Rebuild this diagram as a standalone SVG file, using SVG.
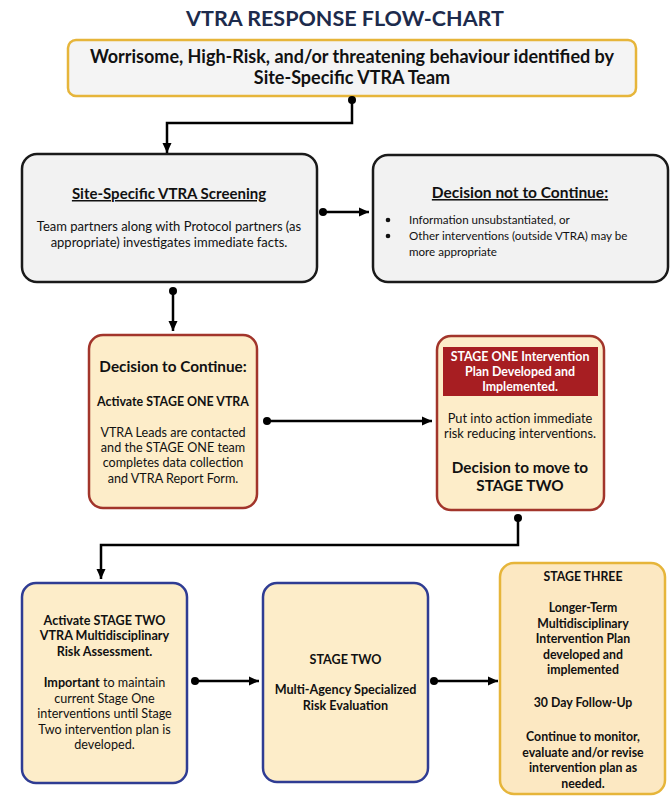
<svg xmlns="http://www.w3.org/2000/svg" width="670" height="796" viewBox="0 0 670 796">
<defs>
<marker id="arr" markerUnits="userSpaceOnUse" markerWidth="12" markerHeight="12" refX="10" refY="5" orient="auto">
<path d="M0,0.5 L10,5 L0,9.5 Z" fill="#000"/>
</marker>
<marker id="dot" markerUnits="userSpaceOnUse" markerWidth="10" markerHeight="10" refX="5" refY="5" orient="auto">
<circle cx="5" cy="5" r="4" fill="#000"/>
</marker>
<style>
text{font-family:Lato,"Liberation Sans",sans-serif;fill:#111;text-anchor:middle}
.b{font-weight:bold}
.u{text-decoration:underline}
.gray{fill:#f2f2f2;stroke:#1a1a1a;stroke-width:2.5}
.red{fill:#fdedc9;stroke:#a2352b;stroke-width:2.5}
.blue{fill:#fdedc9;stroke:#2f3c93;stroke-width:2.5}
.gold{fill:#fce8c2;stroke:#e6b53a;stroke-width:2.5}
.conn{fill:none;stroke:#000;stroke-width:2.5;marker-start:url(#dot);marker-end:url(#arr)}
.m text{font-size:12.6px}
.bt text{font-size:12.6px}
.c3 text{font-size:12.3px;font-weight:bold}
</style>
</defs>
<rect width="670" height="796" fill="#fff"/>
<text x="345" y="26" class="b" style="font-size:21.5px;fill:#1d2b4c">VTRA RESPONSE FLOW-CHART</text>

<g id="top">
<rect x="68" y="40" width="568" height="56" rx="8" fill="#f4f4f4" stroke="#e6b53a" stroke-width="2.5"/>
<text x="352" y="63" class="b" style="font-size:18px">Worrisome, High-Risk, and/or threatening behaviour identified by</text>
<text x="352" y="84" class="b" style="font-size:18px">Site-Specific VTRA Team</text>
</g>

<g id="screening">
<rect x="22" y="154" width="295" height="128" rx="15" class="gray"/>
<text x="169" y="199" class="b u" style="font-size:15px">Site-Specific VTRA Screening</text>
<text x="169" y="231" style="font-size:13px">Team partners along with Protocol partners (as</text>
<text x="169" y="247" style="font-size:13px">appropriate) investigates immediate facts.</text>
</g>

<g id="not-continue">
<rect x="373" y="155" width="295" height="127" rx="15" class="gray"/>
<text x="520" y="198" class="b u" style="font-size:15.5px">Decision not to Continue:</text>
<circle cx="388" cy="220" r="2.3" fill="#111"/>
<circle cx="388" cy="236" r="2.3" fill="#111"/>
<text x="409" y="224" style="font-size:11.6px;text-anchor:start">Information unsubstantiated, or</text>
<text x="409" y="240" style="font-size:11.6px;text-anchor:start">Other interventions (outside VTRA) may be</text>
<text x="409" y="256" style="font-size:11.6px;text-anchor:start">more appropriate</text>
</g>

<g id="continue" class="m">
<rect x="89" y="335" width="168" height="173" rx="14" class="red"/>
<text x="173" y="372" class="b" style="font-size:15.3px">Decision to Continue:</text>
<text x="173" y="406" class="b" style="font-size:12.4px">Activate STAGE ONE VTRA</text>
<text x="173" y="437">VTRA Leads are contacted</text>
<text x="173" y="452">and the STAGE ONE team</text>
<text x="173" y="467">completes data collection</text>
<text x="173" y="483">and VTRA Report Form.</text>
</g>

<g id="stage-one">
<rect x="437" y="336" width="167" height="174" rx="14" class="red"/>
<rect x="443" y="347" width="155" height="49" fill="#a71e22"/>
<text x="520" y="361" class="b" style="font-size:12.4px;fill:#fff">STAGE ONE Intervention</text>
<text x="520" y="376" class="b" style="font-size:12.4px;fill:#fff">Plan Developed and</text>
<text x="520" y="391" class="b" style="font-size:12.4px;fill:#fff">Implemented.</text>
<text x="520" y="422.5" style="font-size:12.8px">Put into action immediate</text>
<text x="520" y="437.5" style="font-size:12.8px">risk reducing interventions.</text>
<text x="520" y="473" class="b" style="font-size:15.3px">Decision to move to</text>
<text x="520" y="491" class="b" style="font-size:15.3px">STAGE TWO</text>
</g>

<g id="activate-two" class="bt">
<rect x="22" y="583" width="165" height="200" rx="14" class="blue"/>
<text x="104.5" y="624.5" class="b">Activate STAGE TWO</text>
<text x="104.5" y="640" class="b">VTRA Multidisciplinary</text>
<text x="104.5" y="655.5" class="b">Risk Assessment.</text>
<text x="104.5" y="687"><tspan class="b">Important</tspan> to maintain</text>
<text x="104.5" y="702.5">current Stage One</text>
<text x="104.5" y="718">interventions until Stage</text>
<text x="104.5" y="733.5">Two intervention plan is</text>
<text x="104.5" y="749">developed.</text>
</g>

<g id="stage-two" class="bt">
<rect x="263" y="583" width="165" height="199" rx="14" class="blue"/>
<text x="345.5" y="664" class="b">STAGE TWO</text>
<text x="345.5" y="694" class="b">Multi-Agency Specialized</text>
<text x="345.5" y="710" class="b">Risk Evaluation</text>
</g>

<g id="stage-three" class="c3">
<rect x="500" y="563" width="165" height="231" rx="14" class="gold"/>
<text x="583" y="581">STAGE THREE</text>
<text x="583" y="612">Longer-Term</text>
<text x="583" y="627.5">Multidisciplinary</text>
<text x="583" y="643">Intervention Plan</text>
<text x="583" y="658.5">developed and</text>
<text x="583" y="674">implemented</text>
<text x="583" y="707">30 Day Follow-Up</text>
<text x="583" y="741">Continue to monitor,</text>
<text x="583" y="756.5">evaluate and/or revise</text>
<text x="583" y="772">intervention plan as</text>
<text x="583" y="787.5">needed.</text>
</g>

<g id="connectors">
<path class="conn" d="M352,100 V123 H167 V153"/>
<path class="conn" d="M323,212 H369"/>
<path class="conn" d="M173,291 V331"/>
<path class="conn" d="M267,421 H432"/>
<path class="conn" d="M518,518 V545 H101 V579"/>
<path class="conn" d="M195,681 H259"/>
<path class="conn" d="M434,681 H498"/>
</g>
</svg>
